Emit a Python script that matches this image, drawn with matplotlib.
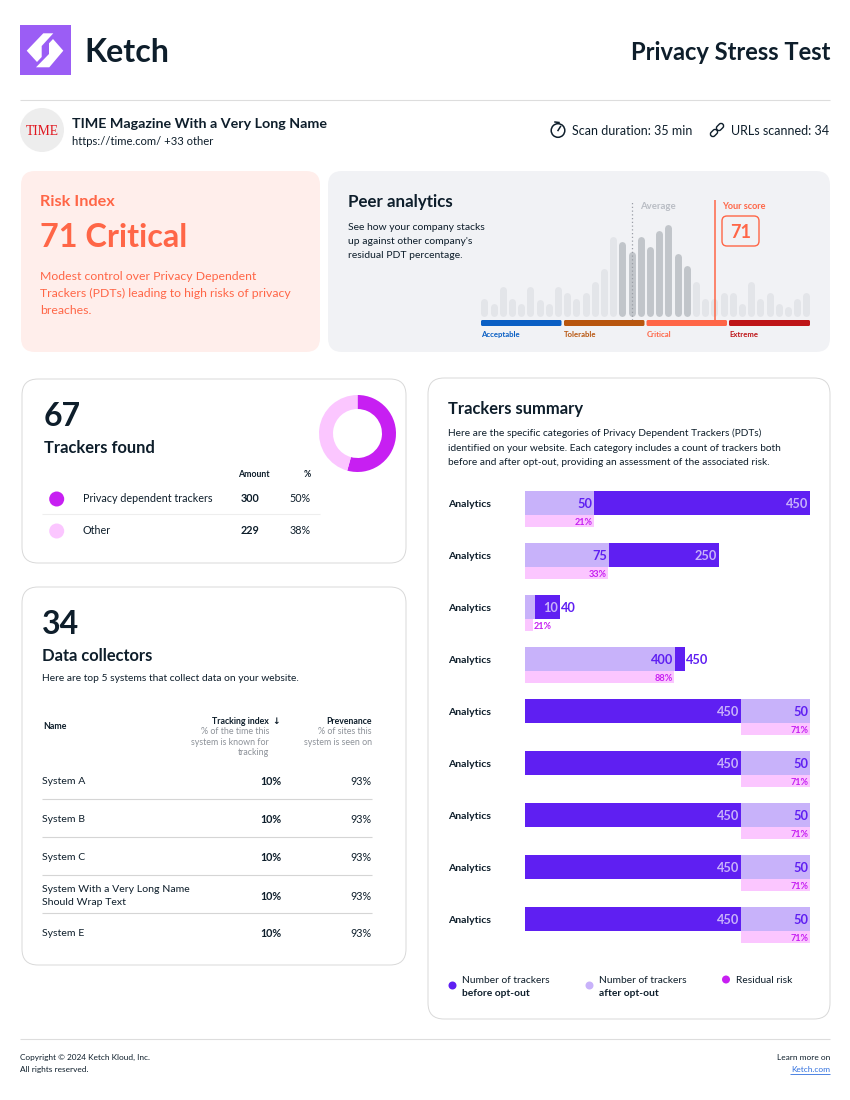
import matplotlib
matplotlib.use("Agg")
import matplotlib.pyplot as plt
from matplotlib.patches import FancyBboxPatch, Circle, Polygon, Rectangle

plt.rcParams['font.family'] = ['Lato', 'DejaVu Sans']

W, H = 850, 1100
INK = '#0E1E2B'
ORANGE = '#FF6647'
PURPLE = '#5F1FF2'
LILAC = '#C8B2FA'
PINK = '#FBC6FF'
MAGENTA = '#C71FF2'

# Peer analytics histogram (bar heights)
peer_values = [17, 12, 29, 17, 12, 29, 16, 12, 29, 23, 17, 23, 34, 47, 79, 74, 64, 79,
               69, 85, 91, 62, 50, 34, 17, 17, 23, 23, 12, 34, 17, 23, 12, 9, 17, 23]
peer_dark = [15, 16, 17, 18, 19, 20, 21, 22]
peer_average = 16.1
peer_score = 25.05
band_names = ['Acceptable', 'Tolerable', 'Critical', 'Extreme']
band_colors = ['#0A5FC4', '#B8560F', ORANGE, '#BE1518']

# Donut
donut_values = [54.3, 45.7]
donut_colors = [MAGENTA, PINK]

# Trackers table
tracker_names = ['Privacy dependent trackers', 'Other']
tracker_amounts = ['300', '229']
tracker_pcts = ['50%', '38%']

# Data collectors
system_names = ['System A', 'System B', 'System C',
                'System With a Very Long Name\nShould Wrap Text', 'System E']
system_index = ['10%', '10%', '10%', '10%', '10%']
system_prev = ['93%', '93%', '93%', '93%', '93%']

# Trackers summary: segment lengths (% of track) with printed labels
row_names = ['Analytics'] * 9
seg_first = [24.2, 29.5, 3.5, 52.6, 75.8, 75.8, 75.8, 75.8, 75.8]
seg_second = [75.8, 38.5, 8.8, 3.5, 24.2, 24.2, 24.2, 24.2, 24.2]
first_is_after = [True, True, True, True, False, False, False, False, False]
label_first = ['50', '75', '', '400', '450', '450', '450', '450', '450']
label_second = ['450', '250', '10', '', '50', '50', '50', '50', '50']
label_outside = ['', '', '40', '450', '', '', '', '', '']
risk_len = [24.2, 29.2, 2.7, 52.3, 24.2, 24.2, 24.2, 24.2, 24.2]
risk_labels = ['21%', '33%', '21%', '88%', '71%', '71%', '71%', '71%', '71%']

fig = plt.figure(figsize=(8.5, 11), dpi=100, facecolor='white')
bg = fig.add_axes([0, 0, 1, 1], zorder=0)
bg.set_xlim(0, W)
bg.set_ylim(H, 0)
bg.axis('off')


def T(x, y, s, px, weight='normal', color=INK, ha='left', va='center', ax=bg, **kw):
    return ax.text(x, y + 1.8 + px * 0.02, s, fontsize=px * 0.72, fontweight=weight, color=color,
                   ha=ha, va=va, **kw)


def card(x0, y0, x1, y1, r, fc, ec='none', lw=0.7):
    bg.add_patch(FancyBboxPatch((x0 + r, y0 + r), x1 - x0 - 2 * r, y1 - y0 - 2 * r,
                                boxstyle=f'round,pad={r},rounding_size={r}',
                                fc=fc, ec=ec, lw=lw))


def hline(x0, x1, y, c='#DDDDDD', lw=0.8):
    bg.plot([x0, x1], [y, y], color=c, lw=lw, solid_capstyle='butt')


def sub_axes(x0, y0, x1, y1, z=2):
    a = fig.add_axes([x0 / W, 1 - y1 / H, (x1 - x0) / W, (y1 - y0) / H], zorder=z)
    a.patch.set_alpha(0)
    a.axis('off')
    return a


# Header
bg.add_patch(Rectangle((20, 25), 51, 50, fc='#9B5DF5', ec='none'))
bg.add_patch(Polygon([(26.7, 50.7), (43.3, 33.3), (53.3, 33.3), (41.7, 46), (41.7, 57), (37, 62)],
                     fc='white', ec='none'))
bg.add_patch(Polygon([(63.3, 50.7), (49.3, 67.3), (36, 67.3), (49, 54), (49, 43.3), (53, 39)],
                     fc='white', ec='none'))
T(84, 50, 'Ketch', 32.2, 'bold')
T(830, 50.5, 'Privacy Stress Test', 23.7, 'bold', ha='right')
hline(20, 830, 100)

bg.add_patch(Circle((42, 130), 22, fc='#EDEDED', ec='none'))
T(42, 129, 'TIME', 13.5, color='#E0161E', ha='center', family='Liberation Serif')
T(72, 121.5, 'TIME Magazine With a Very Long Name', 14.3, 'bold')
T(72, 139.5, 'https://time.com/ +33 other', 11.3)

bg.add_patch(Circle((558, 130.5), 6.8, fc='none', ec=INK, lw=1.1))
bg.plot([558, 560.5], [130.5, 126.5], color=INK, lw=1.1)
bg.plot([555, 559], [122, 122.5], color=INK, lw=1.1)
T(572, 129, 'Scan duration: 35 min', 12.5)
for cx, cy in [(714, 133), (720, 127)]:
    bg.add_patch(FancyBboxPatch((cx - 2.5, cy - 1), 5, 2, boxstyle='round,pad=1.5,rounding_size=2.5',
                                fc='none', ec=INK, lw=1.0,
                                transform=matplotlib.transforms.Affine2D().rotate_deg_around(cx, cy, -45) + bg.transData))
T(731, 129, 'URLs scanned: 34', 12.5)

# Risk card
card(21, 171, 320, 352, 14, '#FFEEEB')
T(40, 200, 'Risk Index', 16.3, 'bold', ORANGE)
T(40, 235.5, '71 Critical', 32.4, 'bold', ORANGE)
for y, s in zip([274, 291, 308],
                ['Modest control over Privacy Dependent',
                 'Trackers (PDTs) leading to high risks of privacy',
                 'breaches.']):
    T(40, y, s, 12.2, color=ORANGE)

# Peer card
card(328, 171, 830, 352, 14, '#F1F2F5')
T(348, 200, 'Peer analytics', 16.9, 'bold')
for y, s in zip([225, 239, 253],
                ['See how your company stacks', "up against other company's",
                 'residual PDT percentage.']):
    T(348, y, s, 10.4)

peer = sub_axes(481, 200, 810, 320)
peer.set_xlim(-0.36, 35.4)
peer.set_ylim(-4, 116)
for i, v in enumerate(peer_values):
    c = '#C1C5CA' if i in peer_dark else '#E3E5E9'
    peer.vlines(i, 3, v - 3, color=c, lw=5.0, capstyle='round')
peer.axvline(peer_average, color='#9A9EA6', lw=0.9, ls=(0, (1, 2)))
peer.axvline(peer_score, color=ORANGE, lw=1.1)

T(640, 205, 'Average', 9.6, 'bold', '#B9BDC4')
T(722, 205, 'Your score', 9.2, 'bold', ORANGE)
bg.add_patch(FancyBboxPatch((727, 221), 27, 20, boxstyle='round,pad=5,rounding_size=5',
                            fc='none', ec=ORANGE, lw=1.0))
T(740.5, 230.5, '71', 18, 'bold', ORANGE, ha='center')

band_edges = [(481, 561.5), (564, 644.5), (646.5, 727), (729, 810)]
for (x0, x1), c, n in zip(band_edges, band_colors, band_names):
    bg.add_patch(FancyBboxPatch((x0 + 1.5, 321.5), x1 - x0 - 3, 3,
                                boxstyle='round,pad=1.5,rounding_size=1.5', fc=c, ec='none'))
    T(x0, 333, n, 7.8, 'bold', c)

# Trackers found card
card(22, 379, 406, 563, 16, 'white', '#D9D9D9')
T(44, 414, '67', 32, 'bold')
T(44, 446, 'Trackers found', 16.5, 'bold')
T(270, 472.5, 'Amount', 8.8, 'bold', ha='right')
T(311, 472.5, '%', 8.8, 'bold', ha='right')
hline(42, 320, 514, '#EEEEEE')
for y, name, amt, pct, c in zip([496.5, 528.5], tracker_names, tracker_amounts, tracker_pcts, donut_colors):
    bg.add_patch(Circle((56.7, y + 2.5), 7.5, fc=c, ec='none'))
    T(83, y, name, 10.8)
    T(250, y, amt, 10.8, 'bold', ha='center')
    T(311, y, pct, 10.8, ha='right')

dn = sub_axes(319, 395, 396, 472)
dn.pie(donut_values, colors=donut_colors, startangle=90, counterclock=False,
       radius=1.0, wedgeprops={'width': 0.364, 'linewidth': 0})
dn.set_xlim(-1, 1)
dn.set_ylim(-1, 1)

# Data collectors card
card(22, 587, 406, 965, 16, 'white', '#D9D9D9')
T(42, 622, '34', 32, 'bold')
T(42, 654, 'Data collectors', 16.5, 'bold')
T(42, 676, 'Here are top 5 systems that collect data on your website.', 10.3)
T(43, 724.5, 'Name', 8.8, 'bold')
T(269, 719.5, 'Tracking index', 8.8, 'bold', ha='right')
T(276, 719.5, '↓', 9, 'bold', ha='center', family='DejaVu Sans')
for y, s in zip([729.5, 740.5, 750.5], ['% of the time this', 'system is known for', 'tracking']):
    T(269, y, s, 8.9, color='#8D9299', ha='right')
T(372, 719.5, 'Prevenance', 8.8, 'bold', ha='right')
for y, s in zip([729.5, 740.5], ['% of sites this', 'system is seen on']):
    T(372, y, s, 8.9, color='#8D9299', ha='right')
rows_y = [779, 817, 855, 894, 931]
for i, (y, n, a, p) in enumerate(zip(rows_y, system_names, system_index, system_prev)):
    if '\n' in n:
        l1, l2 = n.split('\n')
        T(42, y - 7, l1, 10.5)
        T(42, y + 6, l2, 10.5)
    else:
        T(42, y, n, 10.5)
    T(281, y, a, 10.8, 'bold', ha='right')
    T(372, y, p, 10.8, ha='right')
for y in [799, 837, 875, 913]:
    hline(42, 372, y, '#D5D5D5')

# Trackers summary card
card(428, 378, 830, 1019, 16, 'white', '#D9D9D9')
T(448, 407, 'Trackers summary', 16.5, 'bold')
for y, s in zip([431, 446, 460],
                ['Here are the specific categories of Privacy Dependent Trackers (PDTs)',
                 'identified on your website. Each category includes a count of trackers both',
                 'before and after opt-out, providing an assessment of the associated risk.']):
    T(448, y, s, 10.1)

sm = sub_axes(525, 491, 810, 491 + 52 * 9)
sm.set_xlim(0, 100)
sm.set_ylim(9, 0)
bar_h = 24 / 52
risk_h = 12 / 52
for i in range(9):
    yc = i + bar_h / 2
    ry = i + bar_h + risk_h / 2
    c1, c2 = (LILAC, PURPLE) if first_is_after[i] else (PURPLE, LILAC)
    sm.barh(yc, seg_first[i], height=bar_h, color=c1, lw=0)
    sm.barh(yc, seg_second[i], left=seg_first[i], height=bar_h, color=c2, lw=0)
    if first_is_after[i]:
        sm.barh(ry, risk_len[i], height=risk_h, color=PINK, lw=0)
        rx = risk_len[i]
    else:
        sm.barh(ry, risk_len[i], left=seg_first[i], height=risk_h, color=PINK, lw=0)
        rx = 100
    rha = 'right' if risk_len[i] > 10 else 'left'
    rxx = rx - 0.5 if rha == 'right' else rx + 0.3
    sm.text(rxx, ry + 0.02, risk_labels[i], fontsize=6.6, fontweight='bold', color=MAGENTA,
            ha=rha, va='center', clip_on=False)
    t1 = PURPLE if first_is_after[i] else LILAC
    t2 = LILAC if first_is_after[i] else PURPLE
    end1 = seg_first[i]
    end2 = seg_first[i] + seg_second[i]
    sm.text(end1 - 0.7, yc + 0.02, label_first[i], fontsize=9.2, fontweight='bold', color=t1,
            ha='right', va='center', clip_on=False)
    sm.text(end2 - 0.7, yc + 0.02, label_second[i], fontsize=9.2, fontweight='bold', color=t2,
            ha='right', va='center', clip_on=False)
    sm.text(end2 + 0.3, yc + 0.02, label_outside[i], fontsize=9.2, fontweight='bold', color=PURPLE,
            ha='left', va='center', clip_on=False)
    T(448, 491 + 52 * i + 11, row_names[i], 10.5, 'bold')

bg.add_patch(Circle((452.5, 985.5), 4, fc=PURPLE, ec='none'))
T(462, 978.5, 'Number of trackers', 10.2)
T(462, 991.5, 'before opt-out', 10.2, 'bold')
bg.add_patch(Circle((589.5, 985.5), 4, fc=LILAC, ec='none'))
T(599, 978.5, 'Number of trackers', 10.2)
T(599, 991.5, 'after opt-out', 10.2, 'bold')
bg.add_patch(Circle((726, 979.5), 4, fc=MAGENTA, ec='none'))
T(736, 978.5, 'Residual risk', 10.2)

# Footer
hline(20, 830, 1039)
T(20, 1055.5, 'Copyright © 2024 Ketch Kloud, Inc.', 8.3)
T(20, 1067.5, 'All rights reserved.', 8.3)
T(830, 1055.5, 'Learn more on', 8.3, ha='right')
T(830, 1067.5, 'Ketch.com', 8.3, color='#2F6FDE', ha='right')
hline(790, 830, 1074, '#2F6FDE', 0.6)

fig.savefig('out.png', dpi=100)
